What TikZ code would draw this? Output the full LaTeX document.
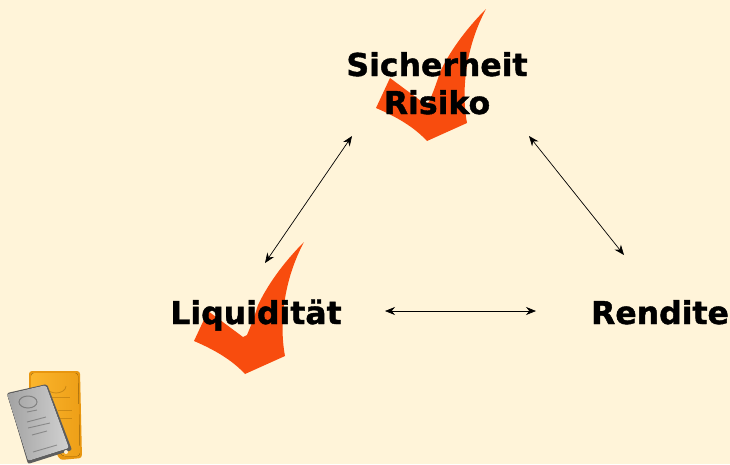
\documentclass[tikz,border=0pt]{standalone}
\usepackage{fontspec}
\setmainfont{DejaVu Sans}
\newfontfamily\labelfont[FakeBold=1.3]{DejaVu Sans Bold}
\usetikzlibrary{arrows.meta}
\definecolor{bgc}{HTML}{FFF4D9}
\definecolor{chk}{HTML}{F84C0E}
\definecolor{golda}{HTML}{FBB52C}
\definecolor{goldb}{HTML}{E8960F}
\definecolor{silva}{HTML}{BEBEBE}
\definecolor{silvb}{HTML}{5E5E5E}
\tikzset{
  label text/.style={font=\fontsize{31.5}{36}\selectfont\labelfont,text=black,inner sep=0pt,anchor=base},
  biarrow/.style={black,line width=0.7pt,{Stealth[length=10pt,width=8pt]}-{Stealth[length=10pt,width=8pt]}},
  checkmark/.pic={
    \fill[chk] (304,242) .. controls (288,258) and (270,280) .. (258,305)
      .. controls (254,318) and (250,328) .. (247,335) -- (243,337)
      -- (208,311) -- (194,341) .. controls (215,350) and (232,360) .. (245,374)
      -- (285,356) .. controls (280,330) and (281,285) .. (304,242) -- cycle;
  }
}
\begin{document}
\begin{tikzpicture}[x=1pt,y=-1pt]
\fill[bgc] (0,0) rectangle (730,464);
\useasboundingbox (0,0) rectangle (730,464);
% check marks
\pic at (182,-233) {checkmark};
\pic at (0,0) {checkmark};
% labels
\node[label text] (sich) at (437,76) {Sicherheit};
\node[label text] (risk) at (437,114) {Risiko};
\node[label text] (liq) at (256,324) {Liquidität};
\node[label text] (rend) at (660,324) {Rendite};
% connector ends
\coordinate (a1) at (352,136);
\coordinate (a2) at (265,263);
\coordinate (b1) at (529,136);
\coordinate (b2) at (624,255);
\coordinate (c1) at (385,311);
\coordinate (c2) at (536,311);
\draw[biarrow] (a1) -- (a2);
\draw[biarrow] (b1) -- (b2);
\draw[biarrow] (c1) -- (c2);
% gold bar
\fill[rounded corners=3pt,goldb] (29,371) -- (80,371) -- (82,458) -- (60,460) -- (29,400) -- cycle;
\fill[rounded corners=3pt,left color=golda,right color=goldb!70!golda] (31,373) -- (78,373) -- (80,456) -- (62,456) -- (31,400) -- cycle;
\draw[goldb!70!black,line width=0.8pt,opacity=.5] (46,386) arc (180:0:10 and 7);
\draw[goldb!70!black,line width=0.8pt,opacity=.45] (52,397) -- (70,397) (58,410) -- (72,410) (60,418) -- (72,418);
% silver bar
\fill[rounded corners=2pt,silvb] (7,393) -- (47,384) -- (72,450) -- (28,464) -- cycle;
\fill[rounded corners=2pt,left color=silva!85!black,right color=silva!70!white] (7,394) -- (46,385) -- (69,448) -- (28,461) -- cycle;
\draw[silvb,line width=1pt,opacity=.6] (28,402) ellipse (9 and 6);
\draw[silvb,line width=0.9pt,opacity=.55] (27,412) -- (37,410) (27,422) -- (46,417) (28,428) -- (50,423) (32,435) -- (47,431) (33,452) -- (57,445);
\fill[white!80!golda] (66,452) circle (2);
\end{tikzpicture}
\end{document}
